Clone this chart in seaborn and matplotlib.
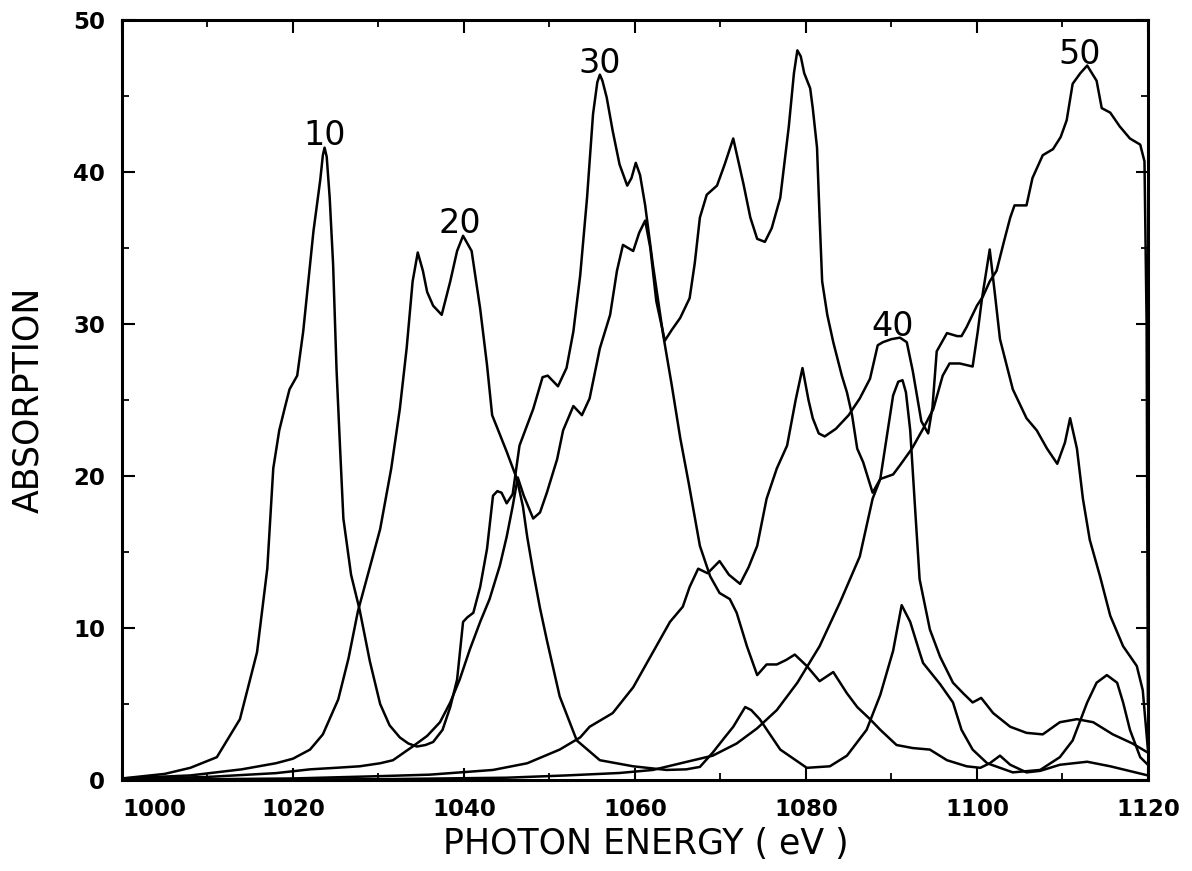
import matplotlib
matplotlib.use("Agg")
import matplotlib.pyplot as plt
from matplotlib.ticker import MultipleLocator
import numpy as np
import pandas as pd
import seaborn as sns

# ---------------- data ----------------
# curve through the "10" peak, continuing into the "30" peak and its tail
xA = [1000, 1005, 1008, 1011.1, 1013.8, 1015.8, 1017.0, 1017.7, 1018.4, 1019.1, 1019.6, 1020.5,
      1021.2, 1022.4, 1023.2, 1023.5, 1023.7, 1023.95, 1024.3, 1024.7, 1025.1, 1025.5, 1025.9,
      1026.8, 1027.8,
      1029.0, 1030.2, 1031.3, 1032.5, 1033.5, 1034.5, 1035.5, 1036.4, 1037.5, 1038.4, 1039.2,
      1039.9, 1040.4, 1041.1, 1041.9, 1042.7, 1043.4, 1043.9, 1044.4, 1045.0, 1045.7, 1046.5,
      1047.3, 1048.1, 1049.2, 1049.8, 1051.0, 1052.0, 1052.8, 1053.6, 1054.4, 1055.1, 1055.6,
      1055.9, 1056.2,
      1056.7, 1057.4, 1058.2, 1059.1, 1059.6, 1060.1, 1060.6, 1061.2, 1062.1, 1063.3, 1064.3,
      1065.3, 1066.3, 1067.6, 1068.8, 1069.9, 1071.1, 1071.9, 1073.1, 1074.3, 1075.4, 1076.6,
      1077.7, 1078.7, 1080.1, 1081.6, 1083.2, 1084.8, 1086.0, 1087.5, 1088.7, 1090.6, 1092.5,
      1094.5, 1096.5, 1098.8, 1100.4, 1101.5, 1102.7, 1103.9, 1105.8, 1107.4, 1109.7, 1112.9,
      1115.6, 1120]
yA = [0.1, 0.4, 0.8, 1.5, 4.0, 8.4, 13.9, 20.5, 23.0, 24.6, 25.7, 26.6,
      29.5, 36.1, 39.5, 41.1, 41.6, 41.0, 38.3, 33.9, 27.0, 22.0, 17.2,
      13.5, 11.2,
      7.8, 5.0, 3.6, 2.8, 2.4, 2.2, 2.3, 2.5, 3.3, 4.8, 6.6,
      10.4, 10.7, 11.0, 12.7, 15.2, 18.7, 19.0, 18.9, 18.2, 18.8, 22.0,
      23.2, 24.4, 26.5, 26.6, 25.9, 27.1, 29.5, 33.2, 38.3, 43.8, 45.9,
      46.4, 46.0,
      44.9, 42.7, 40.5, 39.1, 39.6, 40.6, 39.8, 37.8, 33.9, 29.3, 26.0,
      22.5, 19.5, 15.4, 13.4, 12.3, 11.9, 11.0, 8.8, 6.9, 7.6, 7.6,
      7.9, 8.25, 7.5, 6.5, 7.1, 5.7, 4.8, 4.0, 3.3, 2.3, 2.1,
      2.0, 1.3, 0.9, 0.8, 1.1, 1.6, 1.0, 0.5, 0.6, 1.0, 1.2,
      0.9, 0.3]

# curve through the "20" double peak and its low tail
xB = [1000, 1008, 1014, 1018, 1020, 1022, 1023.5, 1025.3, 1026.5, 1027.6, 1029.0, 1030.2,
      1031.5, 1032.5, 1033.3, 1034.0, 1034.6, 1035.2, 1035.7, 1036.4, 1037.4, 1038.4, 1039.2,
      1039.9, 1040.9, 1041.9, 1042.7, 1043.3, 1043.8, 1045.0, 1046.2, 1046.9, 1047.4, 1048.1,
      1048.9, 1049.7, 1051.2, 1053.2, 1055.9, 1059.8, 1063.7, 1066.0, 1067.6, 1069.1, 1070.5,
      1071.5, 1072.9, 1073.6, 1074.6, 1077.0, 1080.1, 1082.8, 1084.8, 1087.1, 1088.7, 1090.2,
      1091.2, 1092.2, 1093.3, 1093.7, 1095.7, 1097.2, 1098.2, 1099.5, 1101.2, 1104.2, 1107.4,
      1109.7, 1111.2, 1112.9, 1114.0, 1115.2, 1116.4, 1117.1, 1117.9, 1119.1, 1120]
yB = [0.1, 0.3, 0.7, 1.1, 1.4, 2.0, 3.0, 5.3, 8.0, 11.1, 14.0, 16.5,
      20.5, 24.4, 28.4, 32.8, 34.7, 33.5, 32.1, 31.2, 30.6, 32.8, 34.8,
      35.8, 34.8, 31.0, 27.3, 24.0, 23.3, 21.6, 19.8, 18.0, 16.0, 13.7,
      11.3, 9.2, 5.5, 2.6, 1.3, 0.9, 0.66, 0.7, 0.86, 1.8, 2.8,
      3.5, 4.8, 4.6, 4.0, 2.0, 0.8, 0.9, 1.6, 3.3, 5.6, 8.5,
      11.5, 10.4, 8.4, 7.7, 6.3, 5.1, 3.3, 2.0, 1.1, 0.5, 0.66,
      1.5, 2.6, 5.1, 6.4, 6.9, 6.4, 5.1, 3.3, 1.5, 1.0]

# unlabelled curve with peaks near 1061, 1071, 1079, 1101 and 1111 eV
xC = [1000, 1010, 1018, 1022, 1025, 1027.8, 1030.2, 1031.7, 1034.0, 1035.7, 1037.2, 1038.4,
      1039.5, 1040.7, 1041.9, 1043.0, 1044.2, 1045.0, 1045.7, 1046.3, 1047.0, 1048.1, 1048.9,
      1049.7, 1050.9, 1051.6, 1052.8, 1053.8, 1054.7, 1055.9, 1057.1, 1057.9, 1058.6, 1059.2,
      1059.8, 1060.5, 1061.2, 1061.8, 1062.5, 1063.5, 1064.3, 1065.3, 1066.4, 1067.0, 1067.6,
      1068.4, 1069.6, 1070.5, 1071.5, 1072.7, 1073.5, 1074.3, 1075.2, 1076.0, 1077.0, 1078.0,
      1078.6, 1079.0, 1079.4, 1079.8, 1080.5, 1080.8, 1081.3, 1081.6, 1081.9, 1082.5, 1083.2,
      1084.2, 1084.8,
      1085.4, 1086.0, 1086.7, 1087.8, 1088.7, 1090.2, 1091.0, 1092.4, 1093.7, 1094.9, 1096.0,
      1096.8, 1098.0, 1099.5, 1100.1, 1100.6, 1101.5, 1102.1, 1102.7, 1104.2, 1105.8, 1107.0,
      1108.2, 1109.4, 1110.3, 1110.9, 1111.7, 1112.4, 1113.2, 1114.4, 1115.6, 1117.1, 1118.7,
      1119.4, 1120]
yC = [0.05, 0.2, 0.45, 0.7, 0.8, 0.9, 1.1, 1.3, 2.2, 2.9, 3.8, 5.1,
      6.6, 8.6, 10.4, 11.9, 14.1, 16.0, 18.0, 19.9, 18.7, 17.2, 17.6,
      18.9, 21.1, 23.0, 24.6, 24.0, 25.1, 28.4, 30.6, 33.5, 35.2, 35.0,
      34.8, 36.0, 36.8, 35.0, 31.5, 28.9, 29.6, 30.4, 31.7, 34.0, 37.0,
      38.5, 39.1, 40.5, 42.2, 39.2, 37.0, 35.6, 35.4, 36.3, 38.3, 43.0,
      46.5, 48.0, 47.6, 46.5, 45.5, 44.2, 41.6, 37.0, 32.8, 30.6, 28.8,
      26.6, 25.5,
      24.0, 21.8, 20.9, 18.9, 19.8, 20.1, 20.7, 21.8, 23.1, 24.4, 26.6,
      27.4, 27.4, 27.2, 29.5, 31.7, 34.9, 32.0, 29.0, 25.7, 23.8, 23.0,
      21.8, 20.8, 22.2, 23.8, 21.8, 18.5, 15.8, 13.4, 10.8, 8.8, 7.5,
      5.9, 2.0]

# curve through the "40" plateau, continuing into the "50" peak
xD = [1000, 1020, 1030, 1036, 1043.4, 1047.4, 1051.2, 1053.6, 1054.7, 1057.4, 1059.8, 1062.1,
      1064.1, 1065.6, 1066.4, 1067.4, 1068.5, 1069.9, 1071.0, 1072.3, 1073.3, 1074.3, 1075.4,
      1076.6, 1077.8, 1078.8, 1079.6, 1080.3, 1080.8, 1081.5, 1082.2, 1083.5, 1085.0, 1086.3,
      1087.5, 1088.4, 1089.0, 1090.0, 1091.0, 1091.8, 1092.5, 1093.5, 1094.3, 1094.8, 1095.3,
      1095.7, 1096.5, 1097.7, 1098.2, 1098.8, 1100.0, 1100.7, 1101.5, 1102.3, 1103.2, 1103.9,
      1104.4, 1105.8, 1106.5, 1107.7, 1108.9, 1109.8, 1110.5, 1111.2, 1112.1, 1112.9, 1114.0,
      1114.6, 1115.6, 1116.7, 1117.9, 1119.1, 1119.6, 1119.85, 1120]
yD = [0.0, 0.1, 0.25, 0.35, 0.66, 1.1, 2.0, 2.8, 3.5, 4.4, 6.1, 8.4,
      10.4, 11.4, 12.7, 13.9, 13.6, 14.4, 13.5, 12.9, 14.0, 15.4, 18.5,
      20.5, 22.0, 25.0, 27.1, 25.0, 23.8, 22.8, 22.6, 23.1, 24.0, 25.1,
      26.4, 28.6, 28.8, 29.0, 29.1, 28.8, 26.9, 23.6, 22.8, 24.5, 28.2,
      28.6, 29.4, 29.2, 29.2, 29.8, 31.2, 31.8, 32.8, 33.5, 35.5, 37.0,
      37.8, 37.8, 39.6, 41.1, 41.5, 42.3, 43.4, 45.8, 46.5, 47.0, 46.0,
      44.2, 43.9, 43.0, 42.2, 41.8, 40.7, 30.0, 5.0]

# curve with the sharp peak near 1091 eV
xE = [1000, 1030, 1045, 1052, 1058.2, 1062.1, 1066.1, 1069.1, 1071.9, 1074.3, 1076.6, 1079.0,
      1081.6, 1084.0, 1086.3, 1087.8, 1088.7, 1089.6, 1090.2, 1090.8, 1091.3, 1091.7, 1092.2,
      1092.8, 1093.3, 1094.5, 1095.7, 1097.2, 1098.4, 1099.5, 1100.5, 1101.9, 1103.9, 1105.8,
      1107.7, 1109.7, 1111.7, 1113.6, 1115.9, 1118.2, 1120]
yE = [0.0, 0.05, 0.15, 0.3, 0.46, 0.66, 1.2, 1.6, 2.4, 3.4, 4.6, 6.4,
      8.8, 11.7, 14.7, 18.5, 19.8, 23.1, 25.3, 26.2, 26.3, 25.5, 23.0,
      17.6, 13.2, 9.9, 8.1, 6.4, 5.7, 5.1, 5.4, 4.4, 3.5, 3.1,
      3.0, 3.8, 4.0, 3.8, 3.0, 2.4, 1.8]

curve_names = ["A", "B", "C", "D", "E"]
curve_x = [xA, xB, xC, xD, xE]
curve_y = [yA, yB, yC, yD, yE]

peak_labels = ["10", "20", "30", "40", "50"]
label_x = [1023.7, 1039.5, 1055.9, 1090.2, 1112.0]
label_y = [41.8, 36.0, 46.5, 29.2, 47.1]

x_ticks = [1000, 1020, 1040, 1060, 1080, 1100, 1120]
y_ticks = [0, 10, 20, 30, 40, 50]

# ---------------- figure ----------------
sns.set_style("ticks")
plt.rcParams["font.family"] = ["DejaVu Sans"]
plt.rcParams["text.color"] = "black"
plt.rcParams["axes.labelcolor"] = "black"
plt.rcParams["xtick.color"] = "black"
plt.rcParams["ytick.color"] = "black"

df = pd.concat(
    [pd.DataFrame({"curve": n, "energy": xs, "absorption": ys})
     for n, xs, ys in zip(curve_names, curve_x, curve_y)],
    ignore_index=True,
)

fig = plt.figure(figsize=(11.92, 8.71), dpi=100)
ax = fig.add_axes([0.1023, 0.1045, 0.8607, 0.8726])

sns.lineplot(data=df, x="energy", y="absorption", units="curve", estimator=None,
             sort=False, color="black", linewidth=1.8, legend=False, ax=ax,
             solid_joinstyle="round", solid_capstyle="round")

for t, lx, ly in zip(peak_labels, label_x, label_y):
    ax.text(lx, ly, t, ha="center", va="baseline", fontsize=24, color="black")

ax.set_xlim(1000, 1120)
ax.set_ylim(0, 50)
ax.set_xticks(x_ticks)
ax.set_yticks(y_ticks)
ax.xaxis.set_minor_locator(MultipleLocator(10))
ax.yaxis.set_minor_locator(MultipleLocator(5))
ax.tick_params(which="both", direction="in", top=True, right=True, colors="black")
ax.tick_params(which="major", length=9, width=1.5)
ax.tick_params(which="minor", length=5, width=1.3)
ax.tick_params(axis="x", which="major", pad=13)
ax.tick_params(axis="y", which="major", pad=12)
for lab in ax.get_xticklabels() + ax.get_yticklabels():
    lab.set_fontsize(16.5)
    lab.set_fontweight("bold")
    lab.set_color("black")
ax.get_xticklabels()[0].set_horizontalalignment("left")

for s in ax.spines.values():
    s.set_linewidth(2.2)
    s.set_color("black")

ax.set_xlabel("PHOTON ENERGY ( eV )", fontsize=25, color="black")
ax.set_ylabel("ABSORPTION", fontsize=25, color="black")
ax.xaxis.set_label_coords(0.511, -0.062)
ax.yaxis.set_label_coords(-0.075, 0.5)

fig.savefig("out.png", dpi=100, facecolor="white")
